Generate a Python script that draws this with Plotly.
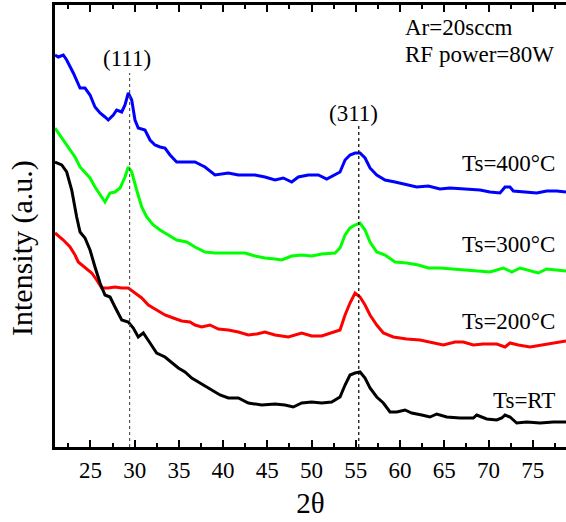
import plotly.graph_objects as go

# ---- data (2theta in degrees, intensity in arbitrary units) ----
two_theta_400 = [21.00, 21.37, 21.94, 22.32, 23.07, 23.83, 24.39, 24.96, 25.52, 26.09, 26.65, 27.02,
                 27.59, 27.97, 28.54, 28.91, 29.28, 29.67, 30.04, 30.41, 31.17, 31.74, 32.30, 32.87,
                 33.43, 34.00, 34.75, 35.88, 36.82, 37.95, 39.08, 40.59, 41.72, 43.60, 44.73, 45.86,
                 46.80, 47.75, 48.50, 49.63, 50.76, 51.71, 52.65, 53.21, 53.78, 54.34, 54.91, 55.47,
                 56.04, 56.60, 57.36, 58.30, 59.43, 60.75, 61.88, 63.19, 64.51, 65.64, 67.15, 68.28,
                 69.03, 70.16, 71.29, 71.86, 72.42, 72.80, 73.93, 75.44, 76.57, 77.70, 78.75]
int_400 = [392, 390, 392, 387, 374, 359, 359, 352, 340, 334, 330, 327,
           332, 337, 335, 342, 354, 347, 327, 319, 317, 307, 302, 300,
           299, 292, 285, 285, 285, 280, 272, 274, 272, 272, 270, 267,
           269, 265, 270, 272, 272, 268, 272, 275, 287, 292, 294, 294,
           289, 279, 272, 267, 265, 262, 260, 261, 258, 259, 258, 257,
           257, 255, 254, 260, 260, 256, 255, 254, 256, 256, 255]

two_theta_300 = [21.00, 21.57, 22.13, 22.70, 23.26, 23.83, 24.39, 24.96, 25.52, 26.09, 26.65, 27.22,
                 27.78, 28.35, 28.91, 29.28, 29.67, 30.23, 30.80, 31.36, 32.11, 32.87, 33.81, 34.75,
                 35.88, 36.82, 37.95, 39.08, 40.59, 42.47, 43.60, 44.73, 45.86, 46.62, 47.75, 48.88,
                 50.01, 51.14, 52.65, 53.21, 53.78, 54.34, 54.91, 55.47, 56.04, 56.60, 57.36, 58.30,
                 59.43, 60.75, 62.06, 63.19, 64.51, 66.02, 67.53, 70.16, 71.67, 72.62, 73.56, 74.49,
                 75.62, 76.57, 77.70, 78.75]
int_300 = [319, 312, 304, 297, 290, 280, 275, 269, 260, 252, 245, 254,
           255, 259, 270, 280, 275, 257, 240, 230, 222, 217, 212, 207,
           205, 200, 195, 194, 194, 194, 191, 189, 188, 187, 191, 192,
           191, 193, 194, 199, 212, 219, 222, 224, 217, 205, 195, 192,
           185, 184, 182, 179, 179, 178, 177, 175, 179, 175, 179, 177,
           174, 178, 177, 176]

two_theta_200 = [21.00, 21.94, 22.70, 23.26, 23.63, 24.39, 25.15, 25.71, 26.28, 27.02, 27.78, 28.54,
                 29.28, 30.04, 30.80, 31.55, 32.49, 33.43, 34.37, 35.32, 36.26, 36.82, 37.58, 38.52,
                 39.46, 40.59, 41.72, 42.85, 43.80, 44.73, 45.86, 47.37, 48.88, 50.01, 51.14, 52.27,
                 53.21, 53.78, 54.34, 54.91, 55.47, 56.04, 56.60, 57.36, 58.11, 59.23, 60.75, 62.25,
                 63.76, 64.89, 66.21, 67.15, 68.28, 69.41, 70.92, 71.86, 72.42, 73.36, 74.69, 76.19,
                 77.70, 78.75]
int_200 = [214, 207, 200, 192, 185, 179, 174, 167, 159, 159, 160, 159,
           159, 154, 149, 142, 137, 132, 129, 126, 125, 122, 120, 122,
           118, 117, 115, 112, 113, 115, 112, 110, 114, 111, 111, 114,
           117, 132, 144, 154, 150, 142, 132, 122, 114, 110, 108, 107,
           104, 102, 105, 105, 102, 103, 103, 100, 104, 102, 100, 102,
           104, 106]

two_theta_rt = [21.00, 21.76, 22.32, 22.89, 23.45, 23.83, 24.39, 24.96, 25.52, 26.09, 26.65, 27.22,
                27.78, 28.54, 29.28, 29.85, 30.41, 30.98, 31.74, 32.49, 33.43, 34.19, 34.94, 35.69,
                36.45, 37.39, 38.71, 39.65, 40.59, 41.72, 42.85, 44.36, 45.86, 46.99, 47.93, 48.88,
                50.01, 51.14, 52.27, 53.21, 53.78, 54.34, 54.91, 55.47, 56.04, 56.60, 57.36, 58.11,
                58.86, 59.62, 60.56, 61.31, 62.45, 63.38, 64.14, 65.27, 66.77, 68.28, 68.66, 69.79,
                70.92, 71.49, 71.86, 72.42, 73.18, 74.31, 75.81, 77.32, 78.75]
int_rt = [285, 282, 275, 257, 230, 215, 209, 197, 180, 164, 152, 150,
          140, 127, 125, 119, 110, 114, 104, 94, 90, 84, 79, 75,
          69, 64, 57, 52, 49, 49, 44, 42, 43, 42, 40, 44,
          45, 44, 45, 50, 62, 72, 74, 75, 69, 59, 50, 44,
          35, 35, 37, 34, 32, 30, 33, 30, 29, 29, 32, 28,
          27, 29, 32, 30, 24, 25, 24, 25, 25]

series_names = ["Ts=400°C", "Ts=300°C", "Ts=200°C", "Ts=RT"]
series_colors = ["#0000FF", "#00FF00", "#FF0000", "#000000"]
peak_labels = ["(111)", "(311)"]
peak_positions = [29.43, 55.33]
x_ticks = [25, 30, 35, 40, 45, 50, 55, 60, 65, 70, 75]

FONT = "Liberation Serif, Times New Roman, serif"

fig = go.Figure()
for xs, ys, name, col in zip([two_theta_400, two_theta_300, two_theta_200, two_theta_rt],
                             [int_400, int_300, int_200, int_rt], series_names, series_colors):
    fig.add_trace(go.Scatter(x=xs, y=ys, mode="lines", name=name,
                             line=dict(color=col, width=3), showlegend=False))

# dotted peak lines
fig.add_shape(type="line", x0=peak_positions[0], x1=peak_positions[0], y0=0, y1=374,
              xref="x", yref="y", line=dict(color="#555555", width=1.2, dash="dot"))
fig.add_shape(type="line", x0=peak_positions[1], x1=peak_positions[1], y0=0, y1=323,
              xref="x", yref="y", line=dict(color="#000000", width=1.2, dash="dot"))

ann_font = dict(family=FONT, size=23, color="black")
# peak labels
fig.add_annotation(x=29.19, y=389, text=peak_labels[0], showarrow=False, font=ann_font,
                   xanchor="center", yanchor="middle")
fig.add_annotation(x=54.79, y=334, text=peak_labels[1], showarrow=False, font=ann_font,
                   xanchor="center", yanchor="middle")
# series labels
for name, yy in zip(series_names, [284, 203, 126, 47]):
    fig.add_annotation(x=77.74, y=yy, text=name, showarrow=False, font=ann_font,
                       xanchor="right", yanchor="middle")
# conditions
fig.add_annotation(x=60.33, y=420, text="Ar=20sccm", showarrow=False, font=ann_font,
                   xanchor="left", yanchor="middle")
fig.add_annotation(x=60.33, y=393, text="RF power=80W", showarrow=False, font=ann_font,
                   xanchor="left", yanchor="middle")

# y-axis title (placed in paper coordinates left of the plot area)
fig.add_annotation(x=(22 - 55) / 511, y=(447 - 248) / 442, xref="paper", yref="paper",
                   text="Intensity (a.u.)", textangle=-90, showarrow=False,
                   font=dict(family=FONT, size=30, color="black"),
                   xanchor="center", yanchor="middle")

fig.update_layout(
    width=566, height=522,
    margin=dict(l=55, r=0, t=5, b=75),
    paper_bgcolor="white", plot_bgcolor="white",
    font=dict(family=FONT, color="black"),
    xaxis=dict(range=[21, 78.75], tickvals=x_ticks, ticks="inside", ticklen=7, tickwidth=2,
               tickcolor="black", showline=True, linewidth=3, linecolor="black", mirror="ticks",
               showgrid=False, zeroline=False, tickfont=dict(family=FONT, size=23, color="black"),
               minor=dict(dtick=2.5, tick0=22.5, ticks="inside", ticklen=4, tickwidth=2, tickcolor="black"),
               title=dict(text="2θ", font=dict(family=FONT, size=29, color="black"), standoff=12)),
    yaxis=dict(range=[0, 442], showticklabels=False, ticks="", showline=True, linewidth=3,
               linecolor="black", showgrid=False, zeroline=False),
)

fig.write_html("out.html")
